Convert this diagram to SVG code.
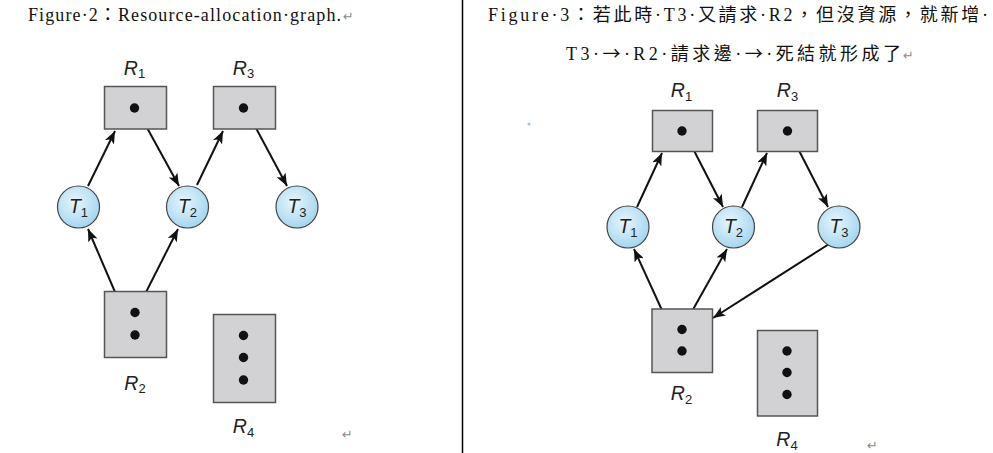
<svg xmlns="http://www.w3.org/2000/svg" width="993" height="453" viewBox="0 0 993 453">
<style>
.cap{font-family:'Liberation Serif','Noto Sans CJK TC',serif;font-size:18px;fill:#111}
.arr{font-family:'Noto Sans CJK TC','DejaVu Sans',sans-serif}
.ret{font-family:'DejaVu Sans',sans-serif;font-size:13px;fill:#8a8a8a}
.lbl{font-family:'Liberation Sans',Arial,sans-serif;font-size:19.5px;font-style:italic;fill:#222}
.sub{font-size:13px;font-style:normal}
.box{fill:#d2d2d4;stroke:#555;stroke-width:1.5}
.thr{fill:url(#tg);stroke:#444;stroke-width:1.2}
.dot{fill:#111}
.edge{stroke:#111;stroke-width:2;fill:none;marker-end:url(#ah)}
</style>
<defs>
<radialGradient id="tg" cx="0.42" cy="0.38" r="0.62">
<stop offset="0" stop-color="#e8f6fd"/>
<stop offset="1" stop-color="#a6d6ef"/>
</radialGradient>
<marker id="ah" markerUnits="userSpaceOnUse" markerWidth="14" markerHeight="10" refX="12.5" refY="5" orient="auto">
<path d="M0,0 L12.5,5 L0,10 L3,5 z" fill="#111"/>
</marker>
</defs>
<rect width="993" height="453" fill="#fff"/>
<line x1="462.5" y1="0" x2="462.5" y2="453" stroke="#000" stroke-width="1.5"/>
<circle cx="529" cy="124" r="1.5" fill="#7fcdf3"/>

<g id="captions">
<text class="cap" x="28" y="21" textLength="313" lengthAdjust="spacing">Figure·2：Resource-allocation·graph.</text>
<text class="ret" x="343" y="21">↵</text>
<text class="cap" x="488" y="21" textLength="500" lengthAdjust="spacing">Figure·3：若此時·T3·又請求·R2，但沒資源，就新增·</text>
<text class="cap" x="566" y="60" textLength="335" lengthAdjust="spacing">T3·<tspan class="arr">→</tspan>·R2·請求邊·<tspan class="arr">→</tspan>·死結就形成了</text>
<text class="ret" x="903" y="60">↵</text>
<text class="ret" x="342" y="439">↵</text>
<text class="ret" x="867" y="450">↵</text>
</g>

<g id="connectors">
<line class="edge" x1="88" y1="186" x2="115" y2="131"/>
<line class="edge" x1="140" y1="115" x2="179" y2="186"/>
<line class="edge" x1="197" y1="185" x2="223" y2="131"/>
<line class="edge" x1="249" y1="115" x2="287" y2="186"/>
<line class="edge" x1="130" y1="327" x2="88" y2="229"/>
<line class="edge" x1="139" y1="306" x2="178" y2="229"/>

<line class="edge" x1="637" y1="207" x2="662" y2="153"/>
<line class="edge" x1="687" y1="137" x2="723" y2="207"/>
<line class="edge" x1="742" y1="207" x2="767" y2="153"/>
<line class="edge" x1="792" y1="137" x2="828" y2="207"/>
<line class="edge" x1="677" y1="343" x2="634" y2="249"/>
<line class="edge" x1="686" y1="322" x2="727" y2="249"/>
<line class="edge" x1="829" y1="244" x2="713" y2="318"/>
</g>

<g id="fig2-R1">
<rect class="box" x="104.5" y="86.5" width="62" height="42.5"/>
<circle class="dot" cx="134.5" cy="108" r="4.7"/>
<text class="lbl" x="134.5" y="74.5" text-anchor="middle">R<tspan class="sub" dy="3.5">1</tspan></text>
</g>
<g id="fig2-R3">
<rect class="box" x="213.5" y="86.5" width="62" height="42.5"/>
<circle class="dot" cx="243.5" cy="108" r="4.7"/>
<text class="lbl" x="243.5" y="74.5" text-anchor="middle">R<tspan class="sub" dy="3.5">3</tspan></text>
</g>
<g id="fig2-R2">
<rect class="box" x="104.5" y="291.5" width="62" height="66"/>
<circle class="dot" cx="135" cy="312.5" r="4.7"/>
<circle class="dot" cx="135" cy="335" r="4.7"/>
<text class="lbl" x="135" y="389.5" text-anchor="middle">R<tspan class="sub" dy="3.5">2</tspan></text>
</g>
<g id="fig2-R4">
<rect class="box" x="213.5" y="314.5" width="62" height="88"/>
<circle class="dot" cx="243.5" cy="335.5" r="4.7"/>
<circle class="dot" cx="243.5" cy="357.5" r="4.7"/>
<circle class="dot" cx="243.5" cy="380" r="4.7"/>
<text class="lbl" x="243.5" y="433" text-anchor="middle">R<tspan class="sub" dy="3.5">4</tspan></text>
</g>
<g id="fig2-T1">
<circle class="thr" cx="78.5" cy="207" r="21"/>
<text class="lbl" x="78.5" y="213" text-anchor="middle">T<tspan class="sub" dy="3.5">1</tspan></text>
</g>
<g id="fig2-T2">
<circle class="thr" cx="187.5" cy="207" r="21"/>
<text class="lbl" x="187.5" y="213" text-anchor="middle">T<tspan class="sub" dy="3.5">2</tspan></text>
</g>
<g id="fig2-T3">
<circle class="thr" cx="297" cy="207" r="21"/>
<text class="lbl" x="297" y="213" text-anchor="middle">T<tspan class="sub" dy="3.5">3</tspan></text>
</g>

<g id="fig3-R1">
<rect class="box" x="652.5" y="110.5" width="60" height="41"/>
<circle class="dot" cx="682" cy="131" r="4.7"/>
<text class="lbl" x="681.5" y="97" text-anchor="middle">R<tspan class="sub" dy="3.5">1</tspan></text>
</g>
<g id="fig3-R3">
<rect class="box" x="757.5" y="110.5" width="60" height="41"/>
<circle class="dot" cx="787.5" cy="131" r="4.7"/>
<text class="lbl" x="787.5" y="97" text-anchor="middle">R<tspan class="sub" dy="3.5">3</tspan></text>
</g>
<g id="fig3-R2">
<rect class="box" x="652" y="309" width="60.5" height="63.5"/>
<circle class="dot" cx="682" cy="329.5" r="4.7"/>
<circle class="dot" cx="682" cy="351" r="4.7"/>
<text class="lbl" x="681.5" y="400" text-anchor="middle">R<tspan class="sub" dy="3.5">2</tspan></text>
</g>
<g id="fig3-R4">
<rect class="box" x="757.5" y="330.5" width="60" height="85.5"/>
<circle class="dot" cx="787" cy="351" r="4.7"/>
<circle class="dot" cx="787" cy="372.5" r="4.7"/>
<circle class="dot" cx="787" cy="394.5" r="4.7"/>
<text class="lbl" x="787" y="446" text-anchor="middle">R<tspan class="sub" dy="3.5">4</tspan></text>
</g>
<g id="fig3-T1">
<circle class="thr" cx="628" cy="227" r="21"/>
<text class="lbl" x="628" y="233" text-anchor="middle">T<tspan class="sub" dy="3.5">1</tspan></text>
</g>
<g id="fig3-T2">
<circle class="thr" cx="733.5" cy="227" r="21"/>
<text class="lbl" x="733.5" y="233" text-anchor="middle">T<tspan class="sub" dy="3.5">2</tspan></text>
</g>
<g id="fig3-T3">
<circle class="thr" cx="839" cy="227" r="21"/>
<text class="lbl" x="839" y="233" text-anchor="middle">T<tspan class="sub" dy="3.5">3</tspan></text>
</g>
</svg>
